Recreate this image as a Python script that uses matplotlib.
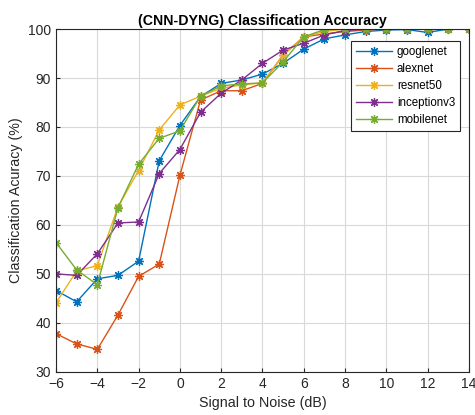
import matplotlib
matplotlib.use("Agg")
import matplotlib.pyplot as plt

plt.rcParams['font.family'] = ['Liberation Sans', 'DejaVu Sans']

snr = list(range(-6, 15))

googlenet = [46.6, 44.3, 49.0, 49.7, 52.6, 73.1, 80.3, 86.2, 88.9, 89.6, 90.8,
             93.0, 95.9, 98.0, 98.8, 99.5, 99.8, 99.9, 99.3, 100, 100]
alexnet = [37.8, 35.7, 34.6, 41.6, 49.5, 52.0, 70.1, 85.5, 87.4, 87.4, 88.9,
           94.7, 98.4, 99.0, 99.5, 99.8, 100, 100, 100, 100, 100]
resnet50 = [44.1, 50.6, 51.7, 63.7, 71.1, 79.4, 84.5, 86.3, 87.9, 88.6, 89.0,
            94.7, 98.4, 99.5, 100, 100, 100, 100, 100, 100, 100]
inceptionv3 = [50.0, 49.7, 54.1, 60.4, 60.6, 70.5, 75.4, 83.0, 86.9, 89.6, 93.0,
               95.7, 97.1, 98.8, 99.7, 100, 100, 100, 100, 100, 100]
mobilenet = [56.4, 50.8, 47.8, 63.5, 72.4, 77.7, 79.2, 86.3, 88.4, 88.8, 89.0,
             93.3, 98.4, 99.9, 100, 100, 100, 100, 100, 100, 100]

names = ['googlenet', 'alexnet', 'resnet50', 'inceptionv3', 'mobilenet']
series = [googlenet, alexnet, resnet50, inceptionv3, mobilenet]
colors = ['#0072BD', '#D95319', '#EDB120', '#7E2F8E', '#77AC30']
axcol = '#262626'

fig = plt.figure(figsize=(4.75, 4.15), dpi=100)
ax = fig.add_axes([0.118, 0.104, 0.869, 0.826])

# matlab style '*' marker: 8 spoke asterisk
for name, vals, c in zip(names, series, colors):
    ax.plot(snr, vals, color=c, marker=(8, 2, 0), markersize=6.5, linewidth=1.0,
            markeredgewidth=0.9, label=name)

ax.set_xlim(-6, 14)
ax.set_ylim(30, 100)
ax.set_xticks(range(-6, 15, 2))
ax.set_yticks(range(30, 101, 10))
ax.grid(True, color='#d9d9d9', linewidth=0.8)
ax.tick_params(direction='in', labelsize=10, length=3, colors=axcol)
for s in ax.spines.values():
    s.set_linewidth(0.8)
    s.set_color(axcol)

ax.set_xlabel('Signal to Noise (dB)', fontsize=10.3, color=axcol)
ax.set_ylabel('Classification Acuracy (%)', fontsize=10.3, color=axcol)
ax.set_title('(CNN-DYNG) Classification Accuracy', fontsize=10.2, fontweight='bold', pad=3)

leg = ax.legend(loc='upper right', bbox_to_anchor=(0.978, 0.965), fontsize=8.3,
                fancybox=False, framealpha=1, edgecolor=axcol,
                borderaxespad=0, handlelength=3.1, handletextpad=0.45,
                labelspacing=0.45, borderpad=0.4)
leg.get_frame().set_linewidth(0.8)

fig.savefig('out.png', dpi=100)
